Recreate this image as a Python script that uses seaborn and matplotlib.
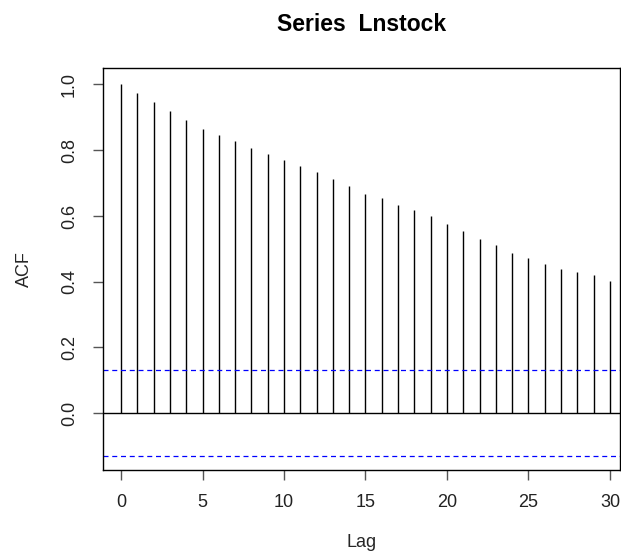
import matplotlib
matplotlib.use("Agg")
import matplotlib.pyplot as plt
import seaborn as sns
import numpy as np
import pandas as pd

lags = list(range(31))
acf_values = [1.000, 0.974, 0.947, 0.918, 0.893, 0.866, 0.847, 0.828, 0.808, 0.788,
              0.771, 0.753, 0.733, 0.713, 0.690, 0.668, 0.654, 0.634, 0.619, 0.599,
              0.577, 0.553, 0.531, 0.511, 0.488, 0.472, 0.455, 0.440, 0.430, 0.419, 0.403]
conf_bound = 0.131
x_ticks = [0, 5, 10, 15, 20, 25, 30]
y_ticks = [0.0, 0.2, 0.4, 0.6, 0.8, 1.0]

sns.set_style("white")
plt.rcParams['font.family'] = ['Liberation Sans', 'DejaVu Sans']

df = pd.DataFrame({"Lag": lags, "ACF": acf_values})

fig = plt.figure(figsize=(6.21, 5.53), dpi=100)
ax = fig.add_axes([0.166, 0.150, 0.832, 0.727])

ax.vlines(df["Lag"], 0, df["ACF"], color="black", linewidth=1.0)
ax.axhline(0, color="black", linewidth=1.0)
ax.axhline(conf_bound, color="blue", linestyle=(0, (4, 3)), linewidth=0.9)
ax.axhline(-conf_bound, color="blue", linestyle=(0, (4, 3)), linewidth=0.9)

ax.set_xlim(-1.1, 30.6)
ax.set_ylim(-0.173, 1.05)
ax.set_xticks(x_ticks)
ax.set_yticks(y_ticks)
ax.set_yticklabels([f"{v:.1f}" for v in y_ticks], rotation=90, va="center")
ax.tick_params(axis="both", direction="out", length=7, width=1, color="#555555",
               labelsize=13, labelcolor="#222222", bottom=True, left=True)
ax.tick_params(axis="x", pad=10.5)
ax.tick_params(axis="y", pad=11)
for s in ax.spines.values():
    s.set_color("black")
    s.set_linewidth(1.0)

ax.set_xlabel("Lag", fontsize=13, labelpad=16.5)
ax.set_ylabel("ACF", fontsize=13, labelpad=20)
ax.set_title("Series  Lnstock", fontsize=16.5, fontweight="bold", pad=27, color="black")

fig.savefig("out.png", dpi=100)
